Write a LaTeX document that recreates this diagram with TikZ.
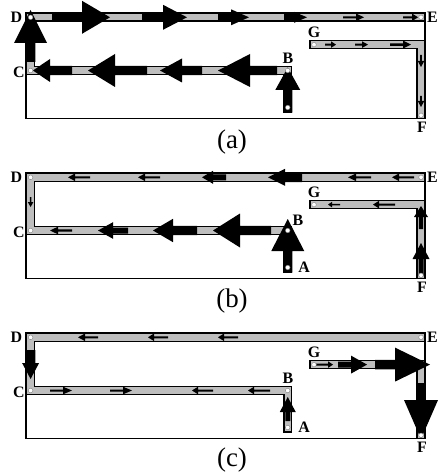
\documentclass[tikz,border=0pt]{standalone}
\usepackage{fontspec}
\setmainfont{Liberation Serif}
\definecolor{chgrey}{RGB}{190,190,190}
\tikzset{
  wall/.style={line width=1.6bp, black},
  chout/.style={line width=9.4bp, black, line join=miter, line cap=butt},
  chin/.style={line width=6.4bp, chgrey, line join=miter, line cap=butt},
  ptc/.style={circle, fill=white, draw=gray, line width=0.4bp, inner sep=0pt, minimum size=4.6bp},
  lab/.style={font=\fontsize{16}{16}\selectfont\bfseries, inner sep=0pt},
  captxt/.style={font=\fontsize{27}{27}\selectfont, inner sep=0pt},
}
% horizontal arrow: {y}{x tail}{x head base}{x tip}{shaft half width}{head half width}
\newcommand\harr[6]{\fill[black] (#2,{#1-#5}) -- (#3,{#1-#5}) -- (#3,{#1-#6}) -- (#4,#1) -- (#3,{#1+#6}) -- (#3,{#1+#5}) -- (#2,{#1+#5}) -- cycle;}
% vertical arrow: {x}{y tail}{y head base}{y tip}{shaft half width}{head half width}
\newcommand\varr[6]{\fill[black] ({#1-#5},#2) -- ({#1-#5},#3) -- ({#1-#6},#3) -- (#1,#4) -- ({#1+#6},#3) -- ({#1+#5},#3) -- ({#1+#5},#2) -- cycle;}
\newcommand\chanbase{%
  \draw[chout] (287.75,112.6) -- (287.75,70.5) -- (30.6,70.5) -- (30.6,17.3) -- (425,17.3);
  \draw[chout] (309.4,44.6) -- (421,44.6) -- (421,118.5);
  \draw[chin] (287.75,111.1) -- (287.75,70.5) -- (30.6,70.5) -- (30.6,17.3) -- (425,17.3);
  \draw[chin] (310.9,44.6) -- (421,44.6) -- (421,118.5);
  \draw[wall] (26,13) rectangle (425,118.5);
}
\newcommand\ptsandlabels[1]{%
  \node[ptc] (D#1) at (30.6,17.3) {};
  \node[ptc] (E#1) at (421,17.3) {};
  \node[ptc] (C#1) at (30.6,70.5) {};
  \node[ptc] (B#1) at (287.75,70.5) {};
  \node[ptc] (A#1) at (287.75,107.5) {};
  \node[ptc] (G#1) at (314,44.6) {};
  \node[ptc] (F#1) at (421,115.3) {};
  \node[lab] (lD#1) at (16.5,17.5) {D};
  \node[lab] (lE#1) at (432.5,17.5) {E};
  \node[lab] (lC#1) at (19,72) {C};
  \node[lab] (lG#1) at (314,32.5) {G};
  \node[lab] (lF#1) at (422,127.5) {F};
}
\begin{document}
\begin{tikzpicture}[x=1bp,y=-1bp]
\useasboundingbox (0,0) rectangle (441,476);
% ---------------- panel (a)
\begin{scope}
\chanbase
\harr{17.3}{52}{82}{110}{4.7}{16.5}
\harr{17.3}{142}{163}{187}{4.7}{12.5}
\harr{17.3}{218}{231}{249}{4.7}{8}
\harr{17.3}{284}{294}{307}{4}{5.5}
\harr{17.3}{343}{356}{364}{1}{3.8}
\harr{17.3}{403}{412}{418}{1}{3.8}
\varr{30.6}{62}{43}{10}{4.7}{16.5}
\harr{70.5}{72}{50}{33}{4.7}{11.5}
\harr{70.5}{147}{115}{88}{4.7}{16.5}
\harr{70.5}{202}{182}{160}{4.7}{12}
\harr{70.5}{277}{250}{218}{4.7}{16.5}
\varr{287.75}{112.6}{90}{67.5}{4.7}{12.5}
\harr{44.6}{325}{331}{336}{1}{3.3}
\harr{44.6}{355}{362}{368}{1}{3.3}
\harr{44.6}{390}{403}{411}{1.2}{4}
\varr{421}{55}{61}{67}{0.9}{3.3}
\varr{421}{96}{101}{107}{0.9}{3.3}
\ptsandlabels{a}
\node[lab] (lBa) at (288,58.5) {B};
\node[captxt] (capa) at (232,142) {(a)};
\end{scope}
% ---------------- panel (b)
\begin{scope}[yshift=-160bp]
\chanbase
\harr{17.3}{90}{75}{68}{1}{3.8}
\harr{17.3}{160}{145}{138}{1}{3.8}
\harr{17.3}{226}{213}{202}{3}{6.5}
\harr{17.3}{302}{285}{268}{4.7}{8.5}
\harr{17.3}{371}{356}{348}{1}{3.8}
\harr{17.3}{414}{399}{392}{1}{3.8}
\varr{30.6}{37}{42}{47}{0.7}{2.8}
\harr{70.5}{72}{58}{50}{1.1}{3.8}
\harr{70.5}{128}{113}{98}{3}{8.3}
\harr{70.5}{197}{173}{153}{4.7}{11.7}
\harr{70.5}{271}{240}{213}{4.7}{17}
\varr{287.75}{112.6}{91}{59}{4.7}{16.5}
\harr{44.6}{340}{332}{328}{0.7}{2.8}
\harr{44.6}{395}{379}{373}{1}{3.8}
\varr{421}{69}{57}{46}{2.2}{7}
\varr{421}{116}{99}{83}{2.5}{8.5}
\ptsandlabels{b}
\node[lab] (lBb) at (298,60) {B};
\node[lab] (lAb) at (304,107) {A};
\node[captxt] (capb) at (232,141) {(b)};
\end{scope}
% ---------------- panel (c)
\begin{scope}[yshift=-320bp]
\chanbase
\harr{17.3}{98}{85}{78}{1}{3.8}
\harr{17.3}{168}{154}{148}{1}{3.8}
\harr{17.3}{238}{224}{218}{1}{3.8}
\varr{30.6}{30}{43}{59}{4.7}{8.5}
\harr{70.5}{50}{63}{72}{1}{3.8}
\harr{70.5}{110}{123}{132}{1}{3.8}
\harr{70.5}{213}{198}{192}{1}{3.8}
\harr{70.5}{270}{254}{248}{1}{3.8}
\varr{287.75}{101}{92}{77}{2.5}{8}
\harr{44.6}{314}{328}{333}{1}{3.3}
\harr{44.6}{338}{351}{367}{3}{9}
\harr{44.6}{375}{395}{430}{4.7}{17}
\varr{421}{63}{80}{119}{4.7}{17}
\ptsandlabels{c}
\node[lab] (lBc) at (288,58) {B};
\node[lab] (lAc) at (304,107) {A};
\node[captxt] (capc) at (232,140) {(c)};
\end{scope}
\end{tikzpicture}
\end{document}
